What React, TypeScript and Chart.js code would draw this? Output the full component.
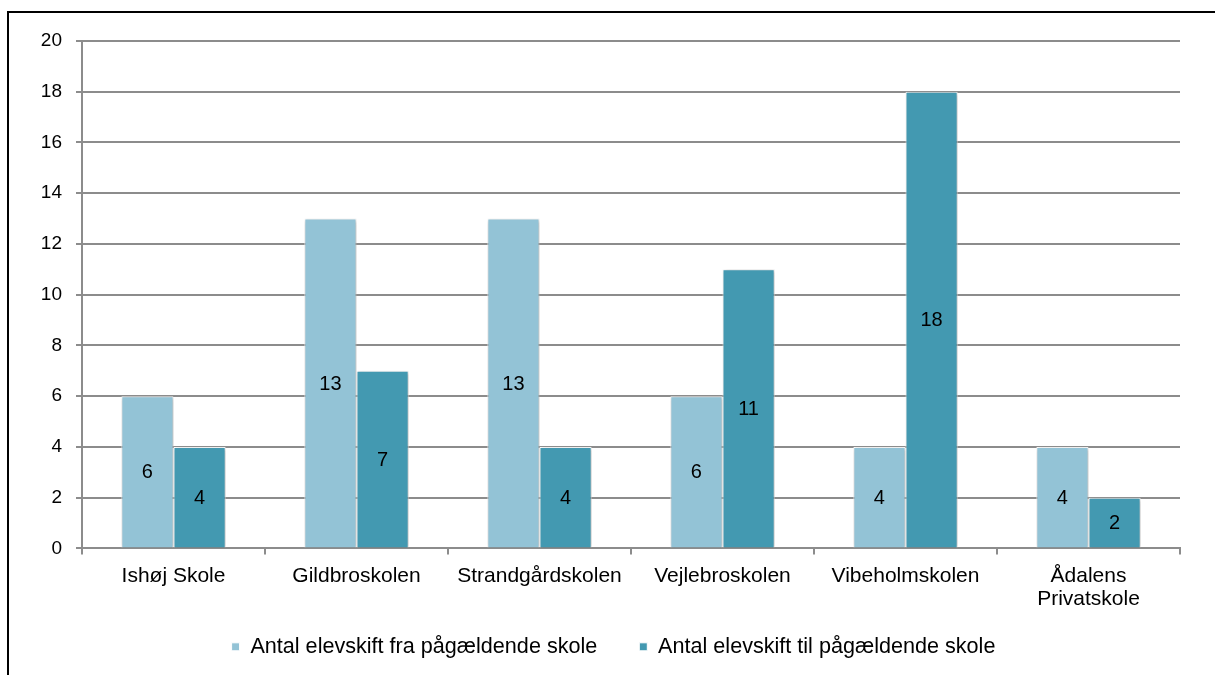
import React, { useEffect, useRef } from "react";
import { Chart, registerables } from "chart.js";

Chart.register(...registerables);

const categories: (string | string[])[] = [
  "Ishøj Skole",
  "Gildbroskolen",
  "Strandgårdskolen",
  "Vejlebroskolen",
  "Vibeholmskolen",
  ["Ådalens", "Privatskole"],
];
const seriesFraLabel = "Antal elevskift fra pågældende skole";
const seriesTilLabel = "Antal elevskift til pågældende skole";
const seriesFra = [6, 13, 13, 6, 4, 4];
const seriesTil = [4, 7, 4, 11, 18, 2];
const yTicks = [0, 2, 4, 6, 8, 10, 12, 14, 16, 18, 20];

const FONT = "Arial, 'Liberation Sans', sans-serif";
const LIGHT = "#93C3D6";
const DARK = "#4399B1";
const GRID = "#8c8c8c";

const CANVAS_W = 1206;
const CANVAS_H = 700;
const LEGEND_TOP = 581;
const LEGEND_DX = 19;

const shadowPlugin = {
  id: "barShadow",
  beforeDatasetsDraw(chart: any) {
    const ctx = chart.ctx;
    ctx.save();
    ctx.shadowColor = "rgba(0,0,0,0.28)";
    ctx.shadowBlur = 4;
    ctx.shadowOffsetX = 1;
    ctx.shadowOffsetY = 1;
  },
  afterDatasetsDraw(chart: any) {
    chart.ctx.restore();
  },
};

const legendShiftPlugin = {
  id: "legendShift",
  afterLayout(chart: any) {
    const lg = chart.legend;
    if (!lg) return;
    const dy = LEGEND_TOP - lg.top;
    lg.top += dy;
    lg.bottom += dy;
    lg.left += LEGEND_DX;
    lg.right += LEGEND_DX;
  },
};

const valueLabelPlugin = {
  id: "valueLabels",
  afterDraw(chart: any) {
    const ctx = chart.ctx;
    ctx.save();
    ctx.font = `20px ${FONT}`;
    ctx.fillStyle = "#000";
    ctx.textAlign = "center";
    ctx.textBaseline = "middle";
    chart.data.datasets.forEach((ds: any, di: number) => {
      const meta = chart.getDatasetMeta(di);
      meta.data.forEach((bar: any, i: number) => {
        const v = ds.data[i];
        const y = (bar.y + bar.base) / 2;
        ctx.fillText(String(v), bar.x, y + 1);
      });
    });
    ctx.restore();
  },
};

export default function App() {
  const ref = useRef<HTMLCanvasElement | null>(null);

  useEffect(() => {
    if (!ref.current) return;
    const chart = new Chart(ref.current, {
      type: "bar",
      data: {
        labels: categories,
        datasets: [
          {
            label: seriesFraLabel,
            data: seriesFra,
            backgroundColor: LIGHT,
            borderColor: "#ffffff",
            borderWidth: 1,
            borderSkipped: "bottom",
            categoryPercentage: 0.57,
            barPercentage: 1,
          },
          {
            label: seriesTilLabel,
            data: seriesTil,
            backgroundColor: DARK,
            borderColor: "#ffffff",
            borderWidth: 1,
            borderSkipped: "bottom",
            categoryPercentage: 0.57,
            barPercentage: 1,
          },
        ],
      },
      options: {
        responsive: false,
        animation: false,
        devicePixelRatio: 1,
        layout: { padding: { top: 28, right: 35, left: 0, bottom: 11 } },
        plugins: {
          tooltip: { enabled: false },
          title: { display: false },
          legend: {
            position: "bottom",
            labels: {
              boxWidth: 8,
              boxHeight: 8,
              padding: 42,
              color: "#000",
              font: { size: 21.6, family: FONT },
            },
          },
        },
        scales: {
          x: {
            offset: true,
            grid: {
              offset: true,
              drawOnChartArea: false,
              drawTicks: true,
              tickLength: 6,
              color: GRID,
              lineWidth: 2,
            },
            border: { color: GRID, width: 2 },
            ticks: {
              color: "#000",
              padding: 10,
              maxRotation: 0,
              autoSkip: false,
              font: { size: 21, family: FONT, lineHeight: 1.1 },
            },
            afterFit(scale: any) {
              scale.height = 80;
            },
          },
          y: {
            min: 0,
            max: 20,
            afterBuildTicks(scale: any) {
              scale.ticks = yTicks.map((v) => ({ value: v }));
            },
            grid: {
              color: GRID,
              lineWidth: 2,
              tickLength: 6,
              drawTicks: true,
            },
            border: { color: GRID, width: 2 },
            ticks: {
              color: "#000",
              padding: 14,
              font: { size: 19, family: FONT },
            },
            afterFit(scale: any) {
              scale.width = 73;
            },
          },
        },
      },
      plugins: [shadowPlugin, valueLabelPlugin, legendShiftPlugin],
    });
    return () => chart.destroy();
  }, []);

  return (
    <div
      style={{
        position: "fixed",
        left: 0,
        top: 0,
        width: 1215,
        height: 675,
        overflow: "hidden",
        background: "#fff",
      }}
    >
      <div
        style={{
          position: "absolute",
          left: 7,
          top: 11,
          width: 1400,
          height: 900,
          border: "2px solid #000",
          boxSizing: "border-box",
        }}
      />
      <canvas
        ref={ref}
        width={CANVAS_W}
        height={CANVAS_H}
        style={{ position: "absolute", left: 9, top: 13, width: CANVAS_W, height: CANVAS_H }}
      />
    </div>
  );
}
